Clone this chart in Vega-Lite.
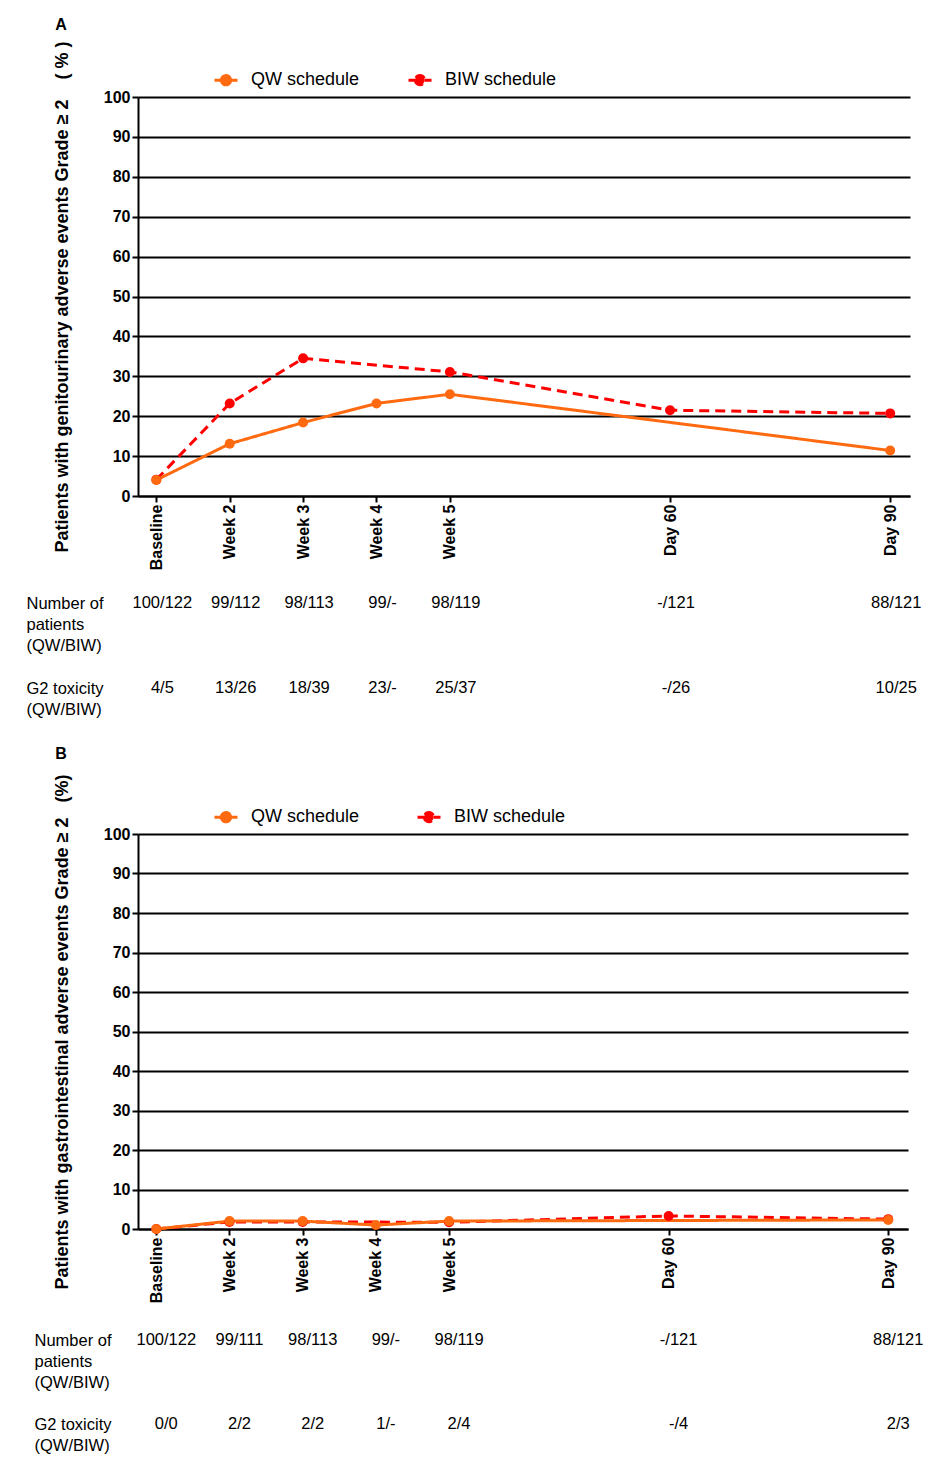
{
  "$schema": "https://vega.github.io/schema/vega-lite/v6.json",
  "padding": {"left": 26, "top": 16, "right": 10, "bottom": 10},
  "background": "white",
  "datasets": {
    "series": [
      {"panel": "A", "schedule": "BIW schedule", "week": 1, "pct": 4.1},
      {"panel": "A", "schedule": "BIW schedule", "week": 2, "pct": 23.2},
      {"panel": "A", "schedule": "BIW schedule", "week": 3, "pct": 34.5},
      {"panel": "A", "schedule": "BIW schedule", "week": 5, "pct": 31.1},
      {"panel": "A", "schedule": "BIW schedule", "week": 8, "pct": 21.5},
      {"panel": "A", "schedule": "BIW schedule", "week": 11, "pct": 20.7},
      {"panel": "A", "schedule": "QW schedule", "week": 1, "pct": 4.0},
      {"panel": "A", "schedule": "QW schedule", "week": 2, "pct": 13.1},
      {"panel": "A", "schedule": "QW schedule", "week": 3, "pct": 18.4},
      {"panel": "A", "schedule": "QW schedule", "week": 4, "pct": 23.2},
      {"panel": "A", "schedule": "QW schedule", "week": 5, "pct": 25.5},
      {"panel": "A", "schedule": "QW schedule", "week": 11, "pct": 11.4},
      {"panel": "B", "schedule": "BIW schedule", "week": 1, "pct": 0},
      {"panel": "B", "schedule": "BIW schedule", "week": 2, "pct": 1.8},
      {"panel": "B", "schedule": "BIW schedule", "week": 3, "pct": 1.8},
      {"panel": "B", "schedule": "BIW schedule", "week": 5, "pct": 1.7},
      {"panel": "B", "schedule": "BIW schedule", "week": 8, "pct": 3.3},
      {"panel": "B", "schedule": "BIW schedule", "week": 11, "pct": 2.5},
      {"panel": "B", "schedule": "QW schedule", "week": 1, "pct": 0},
      {"panel": "B", "schedule": "QW schedule", "week": 2, "pct": 2.0},
      {"panel": "B", "schedule": "QW schedule", "week": 3, "pct": 2.0},
      {"panel": "B", "schedule": "QW schedule", "week": 4, "pct": 1.0},
      {"panel": "B", "schedule": "QW schedule", "week": 5, "pct": 2.0},
      {"panel": "B", "schedule": "QW schedule", "week": 11, "pct": 2.3}
    ],
    "table": [
      {"panel": "A", "row": "Number of patients (QW/BIW)", "week": 1, "value": "100/122"},
      {"panel": "A", "row": "Number of patients (QW/BIW)", "week": 2, "value": "99/112"},
      {"panel": "A", "row": "Number of patients (QW/BIW)", "week": 3, "value": "98/113"},
      {"panel": "A", "row": "Number of patients (QW/BIW)", "week": 4, "value": "99/-"},
      {"panel": "A", "row": "Number of patients (QW/BIW)", "week": 5, "value": "98/119"},
      {"panel": "A", "row": "Number of patients (QW/BIW)", "week": 8, "value": "-/121"},
      {"panel": "A", "row": "Number of patients (QW/BIW)", "week": 11, "value": "88/121"},
      {"panel": "A", "row": "G2 toxicity (QW/BIW)", "week": 1, "value": "4/5"},
      {"panel": "A", "row": "G2 toxicity (QW/BIW)", "week": 2, "value": "13/26"},
      {"panel": "A", "row": "G2 toxicity (QW/BIW)", "week": 3, "value": "18/39"},
      {"panel": "A", "row": "G2 toxicity (QW/BIW)", "week": 4, "value": "23/-"},
      {"panel": "A", "row": "G2 toxicity (QW/BIW)", "week": 5, "value": "25/37"},
      {"panel": "A", "row": "G2 toxicity (QW/BIW)", "week": 8, "value": "-/26"},
      {"panel": "A", "row": "G2 toxicity (QW/BIW)", "week": 11, "value": "10/25"},
      {"panel": "B", "row": "Number of patients (QW/BIW)", "week": 1, "value": "100/122"},
      {"panel": "B", "row": "Number of patients (QW/BIW)", "week": 2, "value": "99/111"},
      {"panel": "B", "row": "Number of patients (QW/BIW)", "week": 3, "value": "98/113"},
      {"panel": "B", "row": "Number of patients (QW/BIW)", "week": 4, "value": "99/-"},
      {"panel": "B", "row": "Number of patients (QW/BIW)", "week": 5, "value": "98/119"},
      {"panel": "B", "row": "Number of patients (QW/BIW)", "week": 8, "value": "-/121"},
      {"panel": "B", "row": "Number of patients (QW/BIW)", "week": 11, "value": "88/121"},
      {"panel": "B", "row": "G2 toxicity (QW/BIW)", "week": 1, "value": "0/0"},
      {"panel": "B", "row": "G2 toxicity (QW/BIW)", "week": 2, "value": "2/2"},
      {"panel": "B", "row": "G2 toxicity (QW/BIW)", "week": 3, "value": "2/2"},
      {"panel": "B", "row": "G2 toxicity (QW/BIW)", "week": 4, "value": "1/-"},
      {"panel": "B", "row": "G2 toxicity (QW/BIW)", "week": 5, "value": "2/4"},
      {"panel": "B", "row": "G2 toxicity (QW/BIW)", "week": 8, "value": "-/4"},
      {"panel": "B", "row": "G2 toxicity (QW/BIW)", "week": 11, "value": "2/3"}
    ]
  },
  "spacing": 27,
  "vconcat": [
    {
      "spacing": 25,
      "vconcat": [
        {
          "width": 772,
          "height": 399,
          "title": {"text": "A", "anchor": "start", "frame": "bounds", "offset": 8},
          "data": {"name": "series"},
          "transform": [{"filter": "datum.panel == 'A'"}],
          "encoding": {
            "x": {
              "field": "week",
              "type": "quantitative",
              "scale": {"domain": [0.75, 11.27], "nice": false, "zero": false},
              "axis": {
                "values": [1, 2, 3, 4, 5, 8, 11],
                "labelExpr": "datum.value == 1 ? 'Baseline' : datum.value <= 5 ? 'Week ' + datum.value : datum.value == 8 ? 'Day 60' : 'Day 90'",
                "labelAngle": -90,
                "grid": false,
                "title": null
              }
            },
            "y": {
              "field": "pct",
              "type": "quantitative",
              "scale": {"domain": [0, 100], "nice": false},
              "axis": {
                "values": [0, 10, 20, 30, 40, 50, 60, 70, 80, 90, 100],
                "title": "Patients with genitourinary adverse events Grade ≥ 2\u00a0\u00a0\u00a0\u00a0(\u00a0%\u00a0)"
              }
            },
            "color": {
              "field": "schedule",
              "type": "nominal",
              "scale": {"domain": ["QW schedule", "BIW schedule"], "range": ["#ff6a10", "#ff0000"]},
              "legend": {"legendX": 75, "legendY": -30, "columnPadding": 42}
            }
          },
          "layer": [
            {
              "mark": {"type": "line", "strokeWidth": 3},
              "encoding": {
                "strokeDash": {
                  "field": "schedule",
                  "type": "nominal",
                  "scale": {"domain": ["QW schedule", "BIW schedule"], "range": [[1, 0], [10, 6]]},
                  "legend": null
                }
              }
            },
            {"mark": {"type": "point", "filled": true, "size": 100, "opacity": 1}}
          ]
        },
        {
          "width": 772,
          "height": 85,
          "data": {"name": "table"},
          "transform": [{"filter": "datum.panel == 'A'"}],
          "mark": {"type": "text", "baseline": "top", "align": "center", "dx": 6},
          "encoding": {
            "x": {
              "field": "week",
              "type": "quantitative",
              "scale": {"domain": [0.75, 11.27], "nice": false, "zero": false},
              "axis": null
            },
            "y": {
              "field": "row",
              "type": "ordinal",
              "sort": null,
              "scale": {"type": "point", "padding": 0},
              "axis": {"labelPadding": 112}
            },
            "text": {"field": "value"}
          }
        }
      ]
    },
    {
      "spacing": 29,
      "vconcat": [
        {
          "width": 770,
          "height": 395,
          "title": {"text": "B", "anchor": "start", "frame": "bounds", "offset": 12},
          "data": {"name": "series"},
          "transform": [{"filter": "datum.panel == 'B'"}],
          "encoding": {
            "x": {
              "field": "week",
              "type": "quantitative",
              "scale": {"domain": [0.75, 11.27], "nice": false, "zero": false},
              "axis": {
                "values": [1, 2, 3, 4, 5, 8, 11],
                "labelExpr": "datum.value == 1 ? 'Baseline' : datum.value <= 5 ? 'Week ' + datum.value : datum.value == 8 ? 'Day 60' : 'Day 90'",
                "labelAngle": -90,
                "grid": false,
                "title": null
              }
            },
            "y": {
              "field": "pct",
              "type": "quantitative",
              "scale": {"domain": [0, 100], "nice": false},
              "axis": {
                "values": [0, 10, 20, 30, 40, 50, 60, 70, 80, 90, 100],
                "title": "Patients with gastrointestinal adverse events Grade ≥ 2\u00a0\u00a0\u00a0(%)"
              }
            },
            "color": {
              "field": "schedule",
              "type": "nominal",
              "scale": {"domain": ["QW schedule", "BIW schedule"], "range": ["#ff6a10", "#ff0000"]},
              "legend": {"legendX": 75, "legendY": -30, "columnPadding": 51}
            }
          },
          "layer": [
            {
              "mark": {"type": "line", "strokeWidth": 3},
              "encoding": {
                "strokeDash": {
                  "field": "schedule",
                  "type": "nominal",
                  "scale": {"domain": ["QW schedule", "BIW schedule"], "range": [[1, 0], [10, 6]]},
                  "legend": null
                }
              }
            },
            {"mark": {"type": "point", "filled": true, "size": 100, "opacity": 1}}
          ]
        },
        {
          "width": 770,
          "height": 84,
          "data": {"name": "table"},
          "transform": [{"filter": "datum.panel == 'B'"}],
          "mark": {"type": "text", "baseline": "top", "align": "center", "dx": 10},
          "encoding": {
            "x": {
              "field": "week",
              "type": "quantitative",
              "scale": {"domain": [0.75, 11.27], "nice": false, "zero": false},
              "axis": null
            },
            "y": {
              "field": "row",
              "type": "ordinal",
              "sort": null,
              "scale": {"type": "point", "padding": 0},
              "axis": {"labelPadding": 104}
            },
            "text": {"field": "value"}
          }
        }
      ]
    }
  ],
  "resolve": {"scale": {"color": "independent", "strokeDash": "independent"}, "legend": {"color": "independent"}},
  "config": {
    "view": {"stroke": null},
    "font": "Arial",
    "title": {"font": "Arial", "fontSize": 16, "fontWeight": "bold", "color": "black", "dx": 2},
    "text": {"font": "Arial", "fontSize": 16.5, "color": "black"},
    "axisQuantitative": {
      "domainColor": "black",
      "domainWidth": 2,
      "tickColor": "black",
      "tickWidth": 2,
      "tickSize": 6,
      "labelFont": "Arial",
      "labelFontSize": 16,
      "labelFontWeight": "bold",
      "labelColor": "black",
      "labelPadding": 2,
      "labelOverlap": false,
      "labelFlush": false,
      "titleFont": "Arial",
      "titleFontSize": 18,
      "titleFontWeight": "bold",
      "titleColor": "black",
      "titlePadding": 32
    },
    "axisY": {"gridColor": "black", "gridWidth": 2, "gridOpacity": 1},
    "axisDiscrete": {
      "title": null,
      "domain": false,
      "ticks": false,
      "grid": false,
      "labelAlign": "left",
      "labelBaseline": "top",
      "labelFont": "Arial",
      "labelFontSize": 16.5,
      "labelColor": "black",
      "labelLineHeight": 21,
      "labelLimit": 0,
      "labelExpr": "datum.value == 'Number of patients (QW/BIW)' ? ['Number of', 'patients', '(QW/BIW)'] : ['G2 toxicity', '(QW/BIW)']"
    },
    "legend": {
      "orient": "none",
      "direction": "horizontal",
      "title": null,
      "symbolType": "M-1,0L1,0M-0.4,0A0.4,0.4,0,1,0,0.4,0A0.4,0.4,0,1,0,-0.4,0Z",
      "symbolSize": 529,
      "symbolStrokeWidth": 3,
      "labelFont": "Arial",
      "labelFontSize": 18,
      "labelColor": "black",
      "labelOffset": 12,
      "labelLimit": 0
    }
  }
}
